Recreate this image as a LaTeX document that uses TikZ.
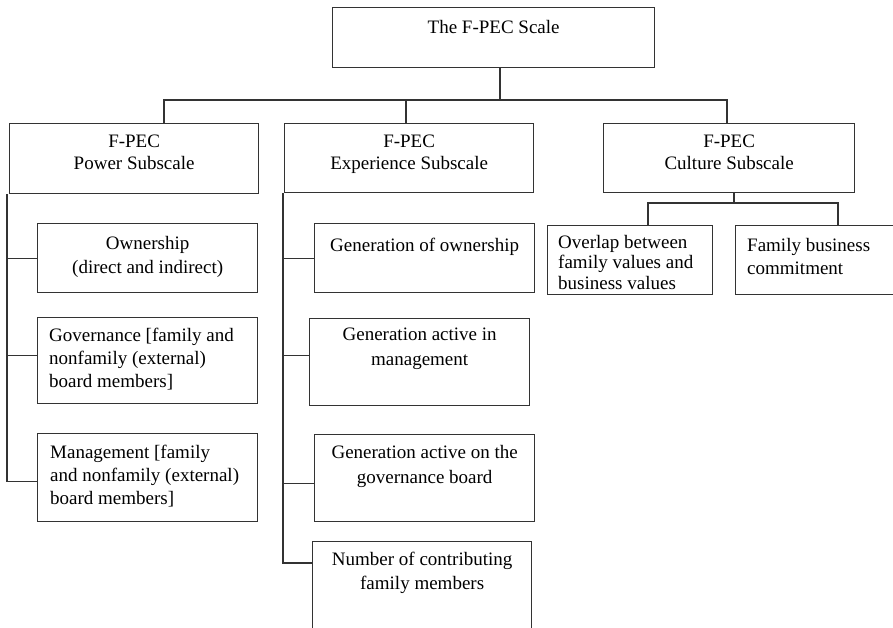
\documentclass[tikz,border=0pt]{standalone}
\usepackage{fontspec}
\setmainfont{Liberation Serif}
\usetikzlibrary{positioning}

\tikzset{
  box/.style={draw=black!80, line width=1.3pt, rectangle, inner sep=0pt, anchor=north west},
  txt/.style={inner sep=0pt, font=\fontsize{19}{23}\selectfont, align=center, text=black},
  ltxt/.style={txt, align=left},
  link/.style={draw=black!80, line width=1.3pt}
}

\begin{document}
\begin{tikzpicture}[x=1pt, y=-1pt]
	\useasboundingbox (0,0) rectangle (893,627);
	\clip (0,0) rectangle (893,627);
	\fill[white] (0,0) rectangle (893,627);

	% the scale and its three subscales
	\node[box, minimum width=322, minimum height=60] (scale) at (332,7) {};
	\node[box, minimum width=249, minimum height=70] (power) at (9,123) {};
	\node[box, minimum width=249, minimum height=69] (exper) at (284,123) {};
	\node[box, minimum width=251, minimum height=69] (culture) at (603,123) {};

	\node[txt, below=13pt of scale.north] (scaletxt) {The F-PEC Scale};
	\node[txt, font=\fontsize{19}{22}\selectfont, below=12pt of power.north] (powertxt) {F-PEC\\Power Subscale};
	\node[txt, font=\fontsize{19}{22}\selectfont, below=12pt of exper.north] (expertxt) {F-PEC\\Experience Subscale};
	\node[txt, font=\fontsize{19}{22}\selectfont, below=12pt of culture.north] (culturetxt) {F-PEC\\Culture Subscale};

	% power items
	\node[box, minimum width=220, minimum height=69] (own) at (37,223) {};
	\node[box, minimum width=220, minimum height=86] (gov) at (37,317) {};
	\node[box, minimum width=220, minimum height=88] (mgmt) at (37,433) {};

	\node[txt, font=\fontsize{19}{24}\selectfont, below=13pt of own.north] (owntxt) {Ownership\\(direct and indirect)};
	\node[ltxt, below right=11pt and 12pt of gov.north west] (govtxt) {Governance [family and\\nonfamily (external)\\board members]};
	\node[ltxt, below right=12pt and 13pt of mgmt.north west] (mgmttxt) {Management [family\\and nonfamily (external)\\board members]};

	% experience items
	\node[box, minimum width=220, minimum height=69] (genown) at (314,223) {};
	\node[box, minimum width=220, minimum height=87] (genmgmt) at (309,318) {};
	\node[box, minimum width=220, minimum height=87] (gengov) at (314,434) {};
	\node[box, minimum width=219, minimum height=120] (num) at (312,541) {};

	\node[txt, below=15pt of genown.north] (genowntxt) {Generation of ownership};
	\node[txt, font=\fontsize{19}{25}\selectfont, below=10pt of genmgmt.north] (genmgmttxt) {Generation active in\\management};
	\node[txt, font=\fontsize{19}{25}\selectfont, below=11pt of gengov.north] (gengovtxt) {Generation active on the\\governance board};
	\node[txt, font=\fontsize{19}{24}\selectfont, below=11pt of num.north] (numtxt) {Number of contributing\\family members};

	% culture items
	\node[box, minimum width=165, minimum height=69] (overlap) at (547,225) {};
	\node[box, minimum width=180, minimum height=69] (family) at (735,225) {};

	\node[ltxt, font=\fontsize{19}{20.5}\selectfont, below right=10pt and 11pt of overlap.north west] (overlaptxt) {Overlap between\\family values and\\business values};
	\node[ltxt, below right=13pt and 12pt of family.north west] (familytxt) {Family business\\commitment};

	% connectors
	\coordinate (tj) at (500,100);
	\coordinate (pj) at (164,100);
	\coordinate (ej) at (406,100);
	\coordinate (cj) at (727,100);
	\draw[link] (scale.south -| tj) -- (tj);
	\draw[link] (pj |- power.north) -- (pj) -- (cj) -- (cj |- culture.north);
	\draw[link] (ej) -- (ej |- exper.north);

	\coordinate (ps) at (7,0);
	\draw[link] (ps |- power.south) |- (own.west);
	\draw[link] (ps |- power.south) |- ([yshift=5pt]gov.west);
	\draw[link] (ps |- power.south) |- ([yshift=-4pt]mgmt.west);

	\coordinate (es) at (283,0);
	\draw[link] (es |- exper.south) |- (genown.west);
	\draw[link] (es |- exper.south) |- ([yshift=7pt]genmgmt.west);
	\draw[link] (es |- exper.south) |- ([yshift=-5pt]gengov.west);
	\draw[link] (es |- exper.south) |- ([yshift=-22pt]num.north west);

	\coordinate (cb) at (734,203);
	\coordinate (oj) at (648,203);
	\coordinate (fj) at (838,203);
	\draw[link] (culture.south -| cb) -- (cb);
	\draw[link] (oj |- overlap.north) -- (oj) -- (fj) -- (fj |- family.north);
\end{tikzpicture}
\end{document}
